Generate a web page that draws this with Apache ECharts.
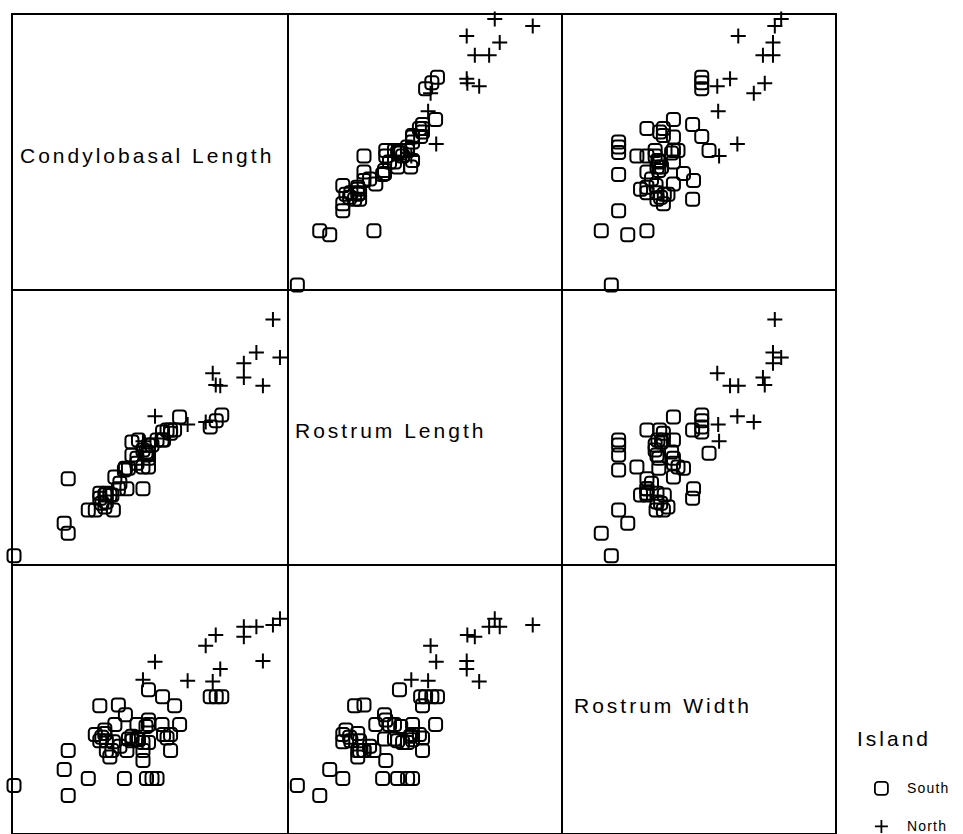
<!DOCTYPE html>
<html>
<head>
<meta charset="utf-8">
<script src="https://cdn.jsdelivr.net/npm/echarts@6/dist/echarts.min.js"></script>
<style>
  html, body { margin: 0; padding: 0; background: #fff; }
  #main { width: 963px; height: 834px; }
</style>
</head>
<body>
<div id="main"></div>
<script>
// Skull measurements (mm) of dolphins from the two islands
const variables = ['Condylobasal Length', 'Rostrum Length', 'Rostrum Width'];
const islands = ['South', 'North'];

const southCL = [307.4, 306.3, 305.1, 299.0, 298.0, 297.2, 297.2, 295.8, 295.6, 295.5,
                 294.5, 293.5, 292.8, 292.8, 292.8, 292.4, 292.3, 291.7, 291.7, 291.7,
                 290.5, 290.5, 289.5, 288.8, 288.5, 288.2, 288.0, 287.1, 286.8, 286.1,
                 285.5, 285.1, 284.4, 284.4, 284.1, 283.1, 283.1, 282.2, 280.8, 276.8,
                 276.8, 276.0, 266.0, 285.8, 284.1, 283.5, 290.8, 292.8, 289.5, 296.5];
const southRL = [174.0, 173.1, 172.1, 173.7, 171.6, 171.6, 171.1, 170.0, 171.3, 170.0,
                 170.0, 169.2, 167.9, 167.1, 169.2, 167.6, 168.1, 165.7, 162.2, 168.4,
                 167.1, 166.3, 169.7, 165.5, 162.2, 165.5, 165.2, 163.1, 162.2, 164.1,
                 161.2, 161.2, 161.5, 160.1, 161.2, 161.5, 160.7, 158.8, 158.8, 155.1,
                 163.8, 156.7, 151.5, 158.8, 159.3, 159.9, 170.0, 165.7, 167.6, 171.6];
const southRW = [75.3, 75.3, 75.3, 72.2, 74.3, 69.3, 71.1, 71.1, 75.3, 72.2,
                 66.2, 66.2, 76.1, 72.2, 70.2, 66.2, 72.0, 68.2, 69.3, 70.2,
                 70.6, 72.2, 70.9, 70.6, 69.3, 73.3, 66.2, 69.8, 74.4, 72.2,
                 69.3, 68.6, 69.3, 70.4, 71.2, 70.4, 74.3, 71.1, 66.2, 64.3,
                 69.3, 67.2, 65.4, 70.3, 71.6, 70.8, 70.5, 72.7, 70.4, 70.7];

const northCL = [319.0, 317.6, 315.6, 314.3, 311.8, 311.8, 307.1, 306.2, 305.6, 304.2, 300.6, 294.1, 291.7];
const northRL = [183.2, 189.3, 178.7, 184.0, 180.0, 182.3, 178.7, 178.8, 180.7, 172.9, 172.5, 173.8, 169.8];
const northRW = [84.0, 83.3, 79.3, 83.1, 82.0, 83.1, 78.4, 82.2, 77.0, 81.0, 77.1, 79.2, 77.2];

// Axis extents (no tick labels are drawn): horizontal use per column, vertical per row
const xAxisMin = [265.6, 150, 60];
const xAxisMax = [320.6, 194, 90];
const yAxisMin = [265, 150, 60];
const yAxisMax = [320, 194, 90];

// Panel layout
const colLeft = [12, 288, 562];
const colWidth = [276, 274, 274];
const rowTop = [14, 290, 565];
const rowHeight = [276, 275, 275];
const labelX = [20, 295, 574];

const groups = {
  South: [southCL, southRL, southRW],
  North: [northCL, northRL, northRW]
};
const markerOf = {
  South: { symbol: 'roundRect', size: 13 },
  North: { symbol: 'path://M7,0L7,14M0,7L14,7', size: 15 }
};

const FONT = '"Liberation Sans", Arial, sans-serif';
const grids = [], xAxes = [], yAxes = [], series = [];
const hiddenAxis = { axisLine: { show: false }, axisTick: { show: false },
                     axisLabel: { show: false }, splitLine: { show: false } };

for (let i = 0; i < 3; i++) {
  for (let j = 0; j < 3; j++) {
    const k = grids.length;
    grids.push({ left: colLeft[j], top: rowTop[i], width: colWidth[j], height: rowHeight[i],
                 show: true, borderColor: '#000', borderWidth: 2, backgroundColor: 'transparent' });
    xAxes.push(Object.assign({ type: 'value', gridIndex: k, min: xAxisMin[j], max: xAxisMax[j] }, hiddenAxis));
    yAxes.push(Object.assign({ type: 'value', gridIndex: k, min: yAxisMin[i], max: yAxisMax[i] }, hiddenAxis));
    if (i === j) continue;
    islands.forEach(name => {
      const cols = groups[name];
      const pts = cols[j].map((v, n) => [v, cols[i][n]]);
      series.push({
        type: 'scatter', name, xAxisIndex: k, yAxisIndex: k, data: pts,
        symbol: markerOf[name].symbol,
        symbolSize: markerOf[name].size,
        itemStyle: { color: 'rgba(0,0,0,0)', borderColor: '#000', borderWidth: 2, opacity: 1 },
        emphasis: { disabled: true },
        clip: false, silent: true
      });
    });
  }
}

const graphic = variables.map((v, i) => ({
  type: 'text', x: labelX[i], y: rowTop[i] + rowHeight[i] / 2 + 3,
  style: { text: v, fontSize: 21, fontFamily: FONT, fill: '#000', verticalAlign: 'middle' }
}));
graphic.push({
  type: 'text', x: 857, y: 738,
  style: { text: 'Island', fontSize: 21, fontFamily: FONT, fill: '#000', verticalAlign: 'middle' }
});

// One legend block per island so the two entries stack at fixed rows
const legendTops = [781, 819];
const legends = islands.map((name, n) => ({
  data: [name], orient: 'vertical', left: 874, top: legendTops[n], padding: 0,
  itemWidth: 13, itemHeight: 13, selectedMode: false,
  itemStyle: { color: 'rgba(0,0,0,0)', borderColor: '#000', borderWidth: 1.8 },
  textStyle: { fontSize: 14, fontFamily: FONT, color: '#000', padding: [2, 0, 0, 14] }
}));

const chart = echarts.init(document.getElementById('main'), null, { renderer: 'svg' });
chart.setOption({
  animation: false,
  backgroundColor: '#fff',
  grid: grids,
  xAxis: xAxes,
  yAxis: yAxes,
  series,
  graphic,
  legend: legends
});

// Widen the tracking of the text, as in the printed figure
function spaceText() {
  document.querySelectorAll('#main svg text').forEach(t => {
    const fs = parseFloat(getComputedStyle(t).fontSize) || 12;
    t.style.letterSpacing = fs >= 18 ? '3px' : '1.2px';
  });
}
chart.on('finished', spaceText);
spaceText();
</script>
</body>
</html>
